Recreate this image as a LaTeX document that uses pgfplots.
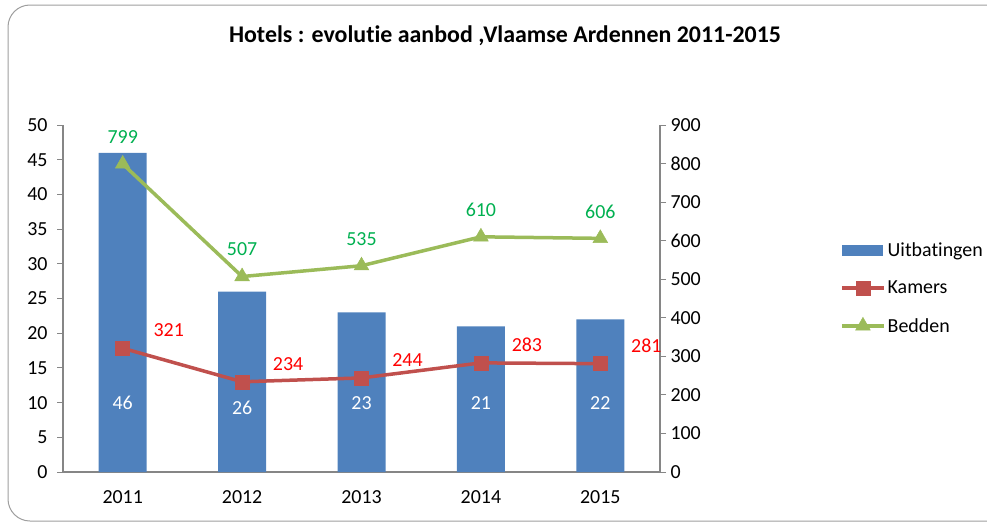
\documentclass[border=0pt]{standalone}
\usepackage{pgfplots}
\pgfplotsset{compat=1.18}
\usepackage{fontspec}
\setmainfont{Carlito}[Ligatures=NoCommon]
\definecolor{barblue}{HTML}{4F81BD}
\definecolor{kred}{HTML}{C0504D}
\definecolor{bgreen}{HTML}{9BBB59}
\definecolor{lgreen}{HTML}{00B050}
\definecolor{axgray}{HTML}{868686}
\begin{document}
\begin{tikzpicture}
\useasboundingbox (0,0) rectangle (987bp,-525bp);
\draw[axgray!80, line width=1bp, rounded corners=22bp] (8bp,-5bp) rectangle (1030bp,-521bp);
\node[font=\fontsize{24}{28}\selectfont\bfseries] at (505bp,-36bp) {Hotels : evolutie aanbod ,Vlaamse Ardennen 2011-2015};
\begin{axis}[
  at={(63bp,-472bp)}, anchor=south west,
  width=597bp, height=347bp, scale only axis,
  xmin=-0.5, xmax=4.5, ymin=0, ymax=50,
  axis x line*=bottom, axis y line*=left,
  xtick={0,1,2,3,4}, xticklabels={2011,2012,2013,2014,2015},
  ytick={0,5,...,50},
  tick align=outside,
  axis line style={axgray, line width=1.5bp},
  ytick style={axgray, line width=1bp},
  xtick style={draw=none},
  major tick length=6bp,
  tick label style={font=\fontsize{20}{24}\selectfont},
  /pgf/number format/assume math mode=true,
  yticklabel style={xshift=-6bp},
  xticklabel style={yshift=-9bp},
]
\addplot[ybar, bar width=48bp, fill=barblue, draw=none] coordinates {(0,46) (1,26) (2,23) (3,21) (4,22)};
\node[white, font=\fontsize{20}{24}\selectfont] at (axis cs:0,10) {46};
\node[white, font=\fontsize{20}{24}\selectfont] at (axis cs:1,9.3) {26};
\node[white, font=\fontsize{20}{24}\selectfont] at (axis cs:2,10) {23};
\node[white, font=\fontsize{20}{24}\selectfont] at (axis cs:3,10) {21};
\node[white, font=\fontsize{20}{24}\selectfont] at (axis cs:4,10) {22};
\end{axis}
\begin{axis}[
  at={(63bp,-472bp)}, anchor=south west,
  width=597bp, height=347bp, scale only axis,
  xmin=-0.5, xmax=4.5, ymin=0, ymax=900,
  axis y line*=right, axis x line=none,
  ytick={0,100,...,900},
  tick align=outside,
  axis line style={axgray, line width=1.5bp},
  ytick style={axgray, line width=1bp},
  major tick length=6bp,
  tick label style={font=\fontsize{20}{24}\selectfont},
  /pgf/number format/assume math mode=true,
  yticklabel style={xshift=1bp},
  legend cell align=left,
  legend style={at={(1.3015,0.53)}, anchor=west, draw=none, fill=none,
    font=\fontsize{20}{24}\selectfont, row sep=19bp, inner sep=0pt,
    /tikz/every even column/.append style={column sep=0pt}},
  legend image code/.code={\draw[mark repeat=2,mark phase=2] plot coordinates {(0bp,0bp) (21bp,0bp) (42bp,0bp)};},
]
\addlegendimage{legend image code/.code={\fill[barblue] (0bp,-5bp) rectangle (40bp,5bp);}}
\addlegendentry{Uitbatingen}
\addplot[kred, line width=3.5bp, mark=square*, mark size=7bp, mark options={fill=kred, draw=kred, line width=0.5bp},
  nodes near coords, every node near coord/.append style={text=red, font=\fontsize{20}{24}\selectfont, anchor=center, xshift=46bp, yshift=18bp}]
  coordinates {(0,321) (1,234) (2,244) (3,283) (4,281)};
\addlegendentry{Kamers}
\addplot[bgreen, line width=3.5bp, mark=triangle*, mark size=8.5bp, mark options={fill=bgreen, draw=bgreen, line width=0.5bp},
  nodes near coords, every node near coord/.append style={text=lgreen, font=\fontsize{20}{24}\selectfont, anchor=center, yshift=27bp}]
  coordinates {(0,799) (1,507) (2,535) (3,610) (4,606)};
\addlegendentry{Bedden}
\end{axis}
\end{tikzpicture}
\end{document}
